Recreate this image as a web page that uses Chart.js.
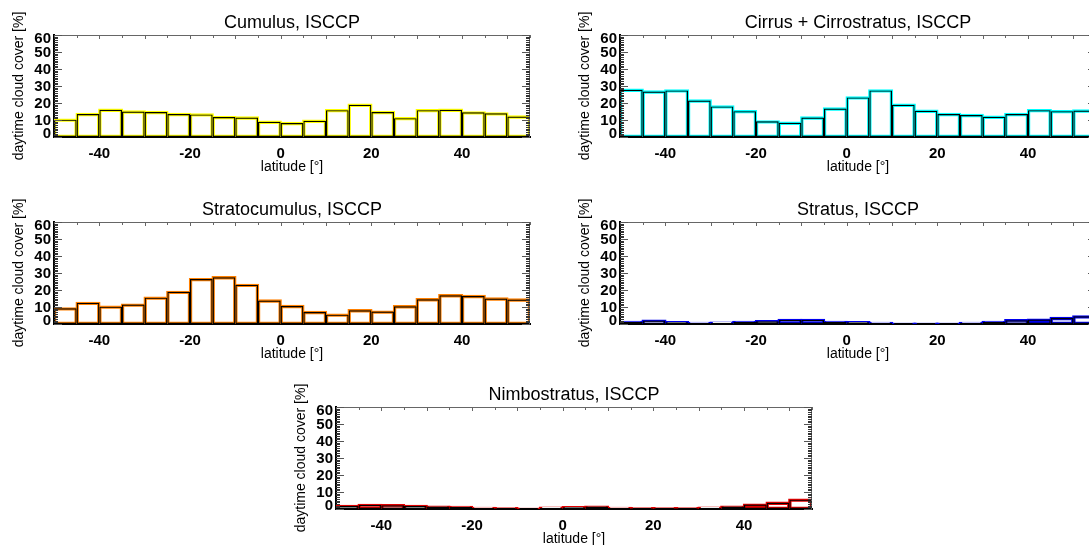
<!DOCTYPE html>
<html><head><meta charset="utf-8">
<script src="https://cdn.jsdelivr.net/npm/chart.js@4/dist/chart.umd.min.js"></script>
<style>
html,body{margin:0;padding:0;background:#fff;overflow:hidden;width:1089px;height:545px;position:relative;}
canvas{position:absolute;}
</style></head><body>
<canvas id="c1" width="545" height="180" style="left:0px;top:0px"></canvas>
<canvas id="c2" width="545" height="180" style="left:566px;top:0px"></canvas>
<canvas id="c3" width="545" height="180" style="left:0px;top:187px"></canvas>
<canvas id="c4" width="545" height="180" style="left:566px;top:187px"></canvas>
<canvas id="c5" width="545" height="180" style="left:282px;top:372px"></canvas>
<script>
// latitude bins (start of each 5-degree bin)
const latBinStart = [-50,-45,-40,-35,-30,-25,-20,-15,-10,-5,0,5,10,15,20,25,30,35,40,45,50];
const binWidth = 5;
const xTickLabels = [-40,-20,0,20,40];
const yTickLabels = [0,10,20,30,40,50,60];

const cumulus       = [10.2,13.5,16.0,15.0,14.7,13.5,13.3,11.7,11.5,9.0,8.2,9.6,15.8,19.0,14.7,11.1,15.8,16.0,14.5,13.9,12.1];
const cirrus        = [27.8,26.8,27.4,21.5,18.0,15.2,9.2,8.4,11.5,16.8,23.3,27.4,19.0,15.4,13.5,12.9,11.9,13.5,15.8,15.2,15.6];
const stratocumulus = [9.2,12.4,10.2,11.4,15.5,18.9,26.4,27.5,23.0,13.8,10.6,7.1,5.5,8.1,7.3,10.4,14.6,16.9,16.5,15.0,14.4];
const stratus       = [1.2,2.0,1.0,0.6,0.8,1.2,1.6,2.4,2.4,1.2,1.0,0.6,0.2,0.2,0.2,0.6,1.2,2.2,2.6,3.5,4.5];
const nimbostratus  = [1.8,2.4,2.2,1.8,1.4,1.2,0.6,0.4,0.2,0.8,1.0,1.4,0.6,0.4,0.4,0.4,0.8,1.4,2.6,3.7,5.5];

const panels = [
  {id:'c1', title:'Cumulus, ISCCP', values:cumulus, color:'#ffff00'},
  {id:'c2', title:'Cirrus + Cirrostratus, ISCCP', values:cirrus, color:'#00ffff'},
  {id:'c3', title:'Stratocumulus, ISCCP', values:stratocumulus, color:'#ff8000'},
  {id:'c4', title:'Stratus, ISCCP', values:stratus, color:'#0000ee'},
  {id:'c5', title:'Nimbostratus, ISCCP', values:nimbostratus, color:'#e00000'}
];

const FONT = "'Liberation Sans', Arial, Helvetica, sans-serif";

const framePlugin = {
  id:'frame',
  afterDraw(chart, args, o){
    const {ctx, chartArea:a, scales:{x,y}} = chart;
    ctx.save();
    const ln=(x1,y1,x2,y2)=>{ctx.beginPath();ctx.moveTo(x1,y1);ctx.lineTo(x2,y2);ctx.stroke();};
    ctx.lineWidth=1;
    ctx.strokeStyle='#666';
    ln(a.left, a.top+0.5, a.right, a.top+0.5);
    ln(a.right-0.5, a.top, a.right-0.5, a.bottom);
    for(let v=-50; v<=55; v+=5){
      const px=Math.round(x.getPixelForValue(v))+0.5;
      ln(px, a.top, px, a.top+(v%10===0?4:3));
    }
    for(let v=0; v<=60; v+=1){
      const py=Math.round(y.getPixelForValue(v))+0.5;
      const major = v%10===0;
      ctx.strokeStyle = major ? '#555' : '#333';
      ln(a.left, py, a.left+(major?8:4), py);
      ln(a.right-(major?8:4), py, a.right, py);
    }
    ctx.fillStyle='#000';
    // y tick labels
    ctx.font='bold 15px '+FONT;
    ctx.textAlign='right';
    ctx.textBaseline='middle';
    yTickLabels.forEach(v=>{
      const py = Math.min(Math.max(y.getPixelForValue(v), a.top+3), a.bottom-4);
      ctx.fillText(String(v), a.left-3, py+1);
    });
    ctx.textAlign='center';
    ctx.font='18px '+FONT;
    ctx.fillText(o.title, (a.left+a.right)/2, a.top-12);
    ctx.font='14px '+FONT;
    ctx.translate(a.left-35, (a.top+a.bottom)/2);
    ctx.rotate(-Math.PI/2);
    ctx.fillText('daytime cloud cover [%]', 0, 0);
    ctx.restore();
  }
};

panels.forEach(p=>{
  const pts = latBinStart.map((s,i)=>({x:s+binWidth/2, y:p.values[i]}));
  new Chart(document.getElementById(p.id), {
    type:'bar',
    data:{datasets:[
      {data:pts, backgroundColor:'rgba(0,0,0,0)', borderColor:p.color, borderWidth:1, borderSkipped:false,
       barPercentage:1, categoryPercentage:1, grouped:false, order:2, inflateAmount:1.2},
      {data:pts, backgroundColor:'rgba(0,0,0,0)', borderColor:'#000', borderWidth:1.2, borderSkipped:false,
       barPercentage:1, categoryPercentage:1, grouped:false, order:1, inflateAmount:0}
    ]},
    options:{
      responsive:false, animation:false, devicePixelRatio:1,
      layout:{padding:{left:0, right:15, top:35, bottom:0}},
      plugins:{legend:{display:false}, tooltip:{enabled:false}, title:{display:false}, frame:{title:p.title}},
      scales:{
        x:{type:'linear', min:-50, max:55, offset:false,
           grid:{display:false, drawTicks:false},
           border:{display:true, color:'#000', width:2},
           ticks:{font:{family:FONT, size:15, weight:'bold'}, color:'#000', padding:8, maxRotation:0, autoSkip:false},
           afterBuildTicks:(s)=>{ s.ticks = xTickLabels.map(v=>({value:v})); },
           afterFit:(s)=>{ s.height = 43; },
           title:{display:true, text:'latitude [°]', font:{family:FONT, size:14}, color:'#000', padding:{top:0,bottom:4}}
        },
        y:{min:0, max:60,
           grid:{display:false, drawTicks:false},
           border:{display:true, color:'#000', width:2},
           ticks:{display:false},
           afterBuildTicks:(s)=>{ s.ticks = yTickLabels.map(v=>({value:v})); },
           afterFit:(s)=>{ s.width = 54; }
        }
      }
    },
    plugins:[framePlugin]
  });
});
</script>
</body></html>
